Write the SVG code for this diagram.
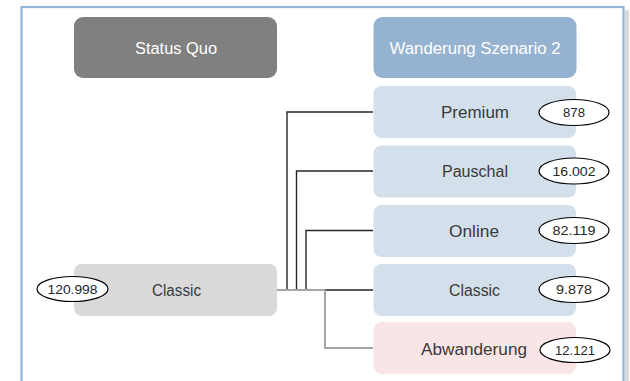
<svg xmlns="http://www.w3.org/2000/svg" width="630" height="381" viewBox="0 0 630 381">
<style>
text{font-family:"Liberation Sans",Arial,sans-serif;text-anchor:middle;dominant-baseline:central}
.lbl{font-size:16px;fill:#3a3a3a}
.hdr{font-size:16px;fill:#ffffff}
.num{font-size:13px;fill:#262626}
.ell{fill:#ffffff;stroke:#000000;stroke-width:1.2}
.blue{fill:#D3DFEB}
.blk{fill:none;stroke:#262626;stroke-width:1.4}
.gry{fill:none;stroke:#A6A6A6;stroke-width:2}
</style>
<rect x="0" y="0" width="630" height="381" fill="#ffffff"/>
<g id="frame">
<rect x="25" y="10" width="4" height="380" fill="none"/>
<rect x="625" y="10" width="4" height="380" fill="#c8c8c8" opacity="0.7"/>
<rect x="21.5" y="7" width="602" height="380" fill="#ffffff" stroke="#95B3D7" stroke-width="2.2"/>
</g>
<g id="connectors">
<path class="blk" d="M373,112 H287 V290"/>
<path class="blk" d="M373,171 H296.5 V290"/>
<path class="blk" d="M373,230.5 H306 V290"/>
<path class="gry" d="M277,290 H325"/>
<path fill="none" stroke="#595959" stroke-width="2" d="M325,290 H373"/>
<path class="gry" d="M325,290 V348 H373"/>
</g>
<g id="status-quo">
<rect x="74" y="17" width="203" height="61" rx="9" fill="#808080"/>
<text class="hdr" x="176" y="48" textLength="82" lengthAdjust="spacingAndGlyphs">Status Quo</text>
</g>
<g id="wanderung">
<rect x="373.5" y="17" width="203" height="61" rx="9" fill="#95B3D0"/>
<text class="hdr" x="475" y="48" textLength="171" lengthAdjust="spacingAndGlyphs">Wanderung Szenario 2</text>
</g>
<g id="premium">
<rect class="blue" x="373.5" y="86" width="202.5" height="52" rx="8"/>
<text class="lbl" x="475" y="112" textLength="68" lengthAdjust="spacingAndGlyphs">Premium</text>
<ellipse class="ell" cx="574" cy="112.5" rx="35" ry="13"/>
<text class="num" x="574" y="112.5" textLength="22" lengthAdjust="spacingAndGlyphs">878</text>
</g>
<g id="pauschal">
<rect class="blue" x="373.5" y="145.5" width="202.5" height="52" rx="8"/>
<text class="lbl" x="475" y="171" textLength="66" lengthAdjust="spacingAndGlyphs">Pauschal</text>
<ellipse class="ell" cx="574" cy="171" rx="35" ry="13"/>
<text class="num" x="574" y="171" textLength="43" lengthAdjust="spacingAndGlyphs">16.002</text>
</g>
<g id="online">
<rect class="blue" x="373.5" y="205" width="202.5" height="52" rx="8"/>
<text class="lbl" x="474" y="231" textLength="50" lengthAdjust="spacingAndGlyphs">Online</text>
<ellipse class="ell" cx="574" cy="230.5" rx="35" ry="13"/>
<text class="num" x="574" y="230.5" textLength="43" lengthAdjust="spacingAndGlyphs">82.119</text>
</g>
<g id="classic-right">
<rect class="blue" x="373.5" y="264" width="202.5" height="52" rx="8"/>
<text class="lbl" x="474.5" y="290" textLength="51" lengthAdjust="spacingAndGlyphs">Classic</text>
<ellipse class="ell" cx="574" cy="289.5" rx="35" ry="13"/>
<text class="num" x="574" y="289.5" textLength="36" lengthAdjust="spacingAndGlyphs">9.878</text>
</g>
<g id="abwanderung">
<rect x="373.5" y="322" width="202.5" height="52" rx="8" fill="#F9E5E6"/>
<text class="lbl" x="474" y="349" textLength="106" lengthAdjust="spacingAndGlyphs">Abwanderung</text>
<ellipse class="ell" cx="575" cy="350" rx="35" ry="12.5"/>
<text class="num" x="575" y="350" textLength="40" lengthAdjust="spacingAndGlyphs">12.121</text>
</g>
<g id="classic-left">
<rect x="74" y="264" width="203" height="52" rx="8" fill="#D9D9D9"/>
<text class="lbl" x="176.5" y="290" textLength="49" lengthAdjust="spacingAndGlyphs">Classic</text>
<ellipse class="ell" cx="72.5" cy="289" rx="35.5" ry="12.5"/>
<text class="num" x="72.5" y="289" textLength="50" lengthAdjust="spacingAndGlyphs">120.998</text>
</g>
</svg>
